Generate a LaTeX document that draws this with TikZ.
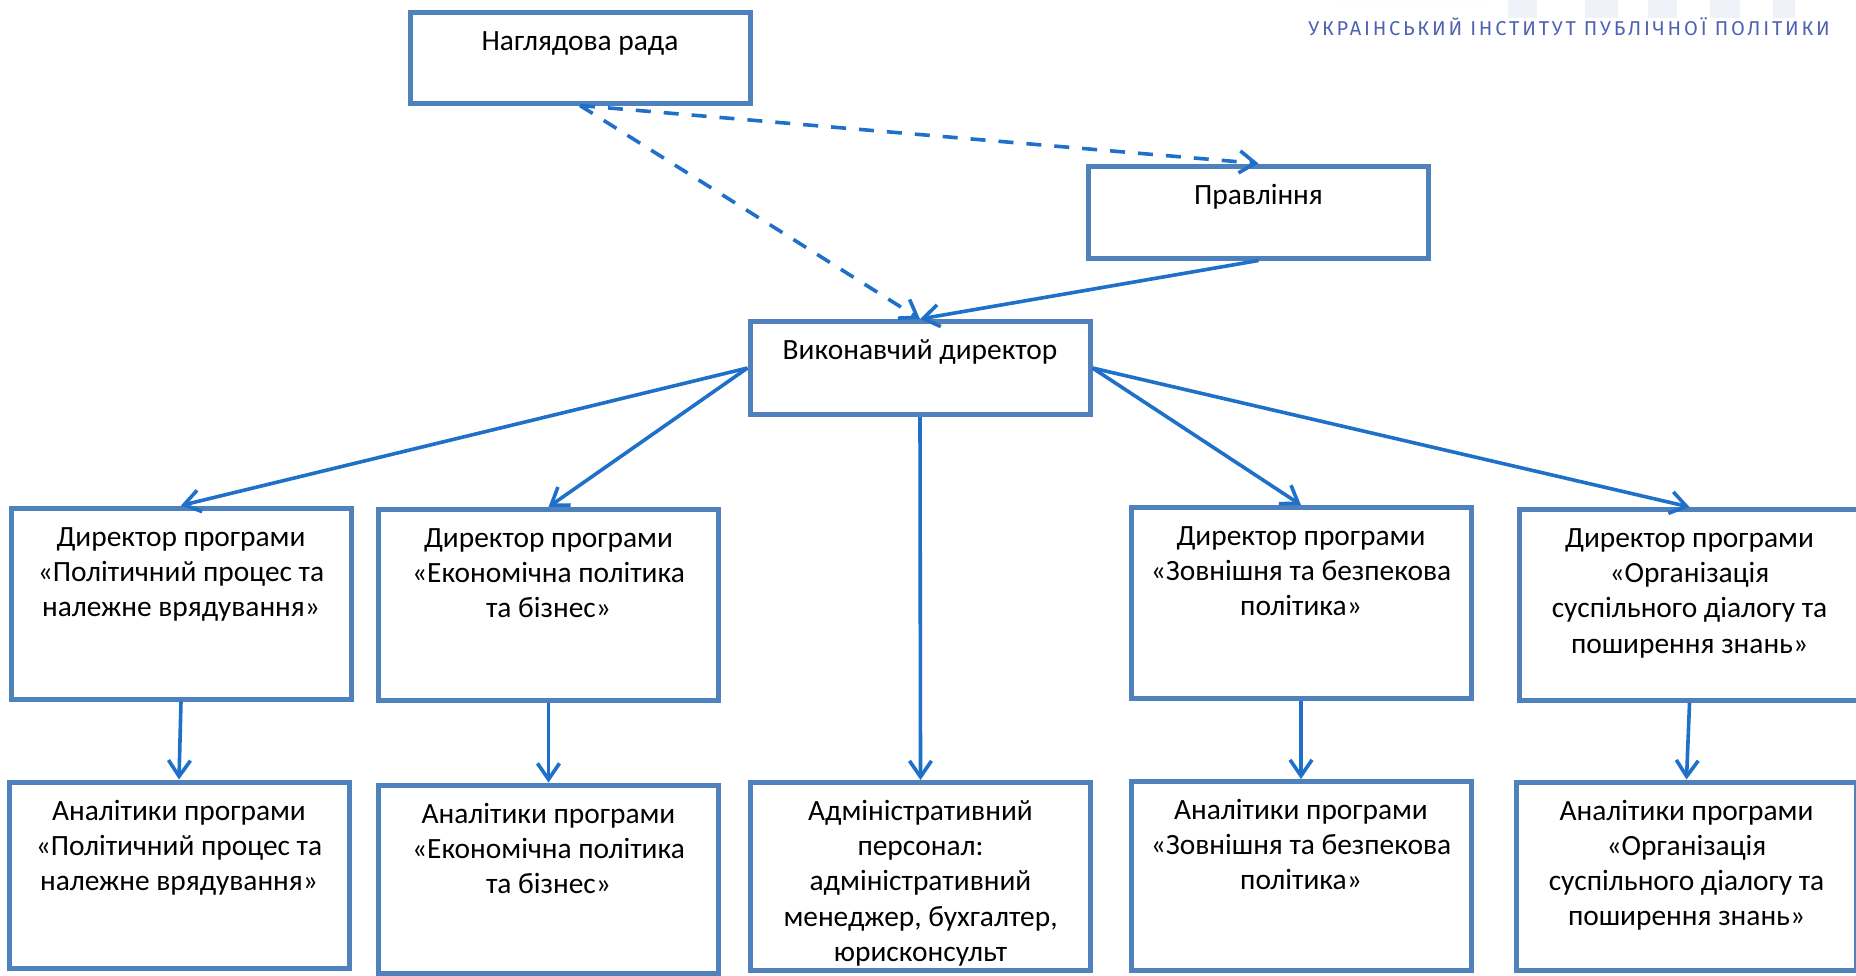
\documentclass[tikz,border=0pt]{standalone}
\usepackage{fontspec}
\setmainfont{Carlito}
\newfontfamily\logofont[LetterSpace=14]{Fira Sans}
\usetikzlibrary{arrows.meta}
\definecolor{boxblue}{RGB}{79,129,189}
\definecolor{arrblue}{RGB}{30,112,200}
\definecolor{logoblue}{RGB}{78,98,178}
\definecolor{wmark}{RGB}{240,242,250}
\newcommand{\bx}[3]{\parbox[c][#2][t]{#1}{\centering\rule{0pt}{19pt}#3}}
\begin{document}
\begin{tikzpicture}[x=0.5pt,y=-0.5pt,
  box/.style={draw=boxblue,line width=2.5pt,fill=white,inner sep=0pt,font=\fontsize{14.7pt}{17.6pt}\selectfont},
  conn/.style={draw=arrblue,line width=1.8pt,-{Straight Barb[length=8pt,width=11pt]}},
  dashconn/.style={conn,dash pattern=on 7.5pt off 6.5pt},
  wm/.style={fill=wmark,draw=none}]
\useasboundingbox (0,0) rectangle (1856,975);

% faint watermark behind the logo text
\fill[wm] (1335,0) arc[start angle=180,end angle=360,x radius=75,y radius=18] -- cycle;
\fill[wm] (1508,0) rectangle (1537,18);
\fill[wm] (1585,0) rectangle (1618,18);
\fill[wm] (1648,0) rectangle (1677,18);
\fill[wm] (1710,0) rectangle (1740,18);
\fill[wm] (1773,0) rectangle (1795,18);

\node[anchor=base west,text=logoblue,inner sep=0pt,font=\logofont\fontsize{10pt}{11pt}\selectfont] (logo) at (1308,35) {УКРАІНСЬКИЙ ІНСТИТУТ ПУБЛІЧНОЇ ПОЛІТИКИ};

\node[box] (A) at (580,57.5) {\bx{170pt}{45.5pt}{Наглядова рада}};
\node[box] (B) at (1258.5,212) {\bx{170pt}{46pt}{Правління}};
\node[box] (C) at (920,368) {\bx{170pt}{46.5pt}{Виконавчий директор}};

\node[box] (D1) at (181,603.5) {\bx{170pt}{95.5pt}{Директор програми\\«Політичний процес та\\належне врядування»}};
\node[box] (D2) at (548.5,605) {\bx{170pt}{95.5pt}{Директор програми\\«Економічна політика\\та бізнес»}};
\node[box] (D4) at (1301,603) {\bx{170pt}{95.5pt}{Директор програми\\«Зовнішня та безпекова\\політика»}};
\node[box] (D5) at (1689.5,605) {\bx{170pt}{95.5pt}{Директор програми\\«Організація\\суспільного діалогу та\\поширення знань»}};

\node[box] (E1) at (179,875) {\bx{170pt}{93pt}{Аналітики програми\\«Політичний процес та\\належне врядування»}};
\node[box] (E2) at (548.5,879) {\bx{170pt}{94pt}{Аналітики програми\\«Економічна політика\\та бізнес»}};
\node[box] (E3) at (920.5,876.5) {\bx{170pt}{94pt}{Адміністративний\\персонал:\\адміністративний\\менеджер, бухгалтер,\\юрисконсульт}};
\node[box] (E4) at (1301,876) {\bx{170pt}{94.5pt}{Аналітики програми\\«Зовнішня та безпекова\\політика»}};
\node[box] (E5) at (1686.5,876) {\bx{170pt}{94pt}{Аналітики програми\\«Організація\\суспільного діалогу та\\поширення знань»}};

\draw[dashconn] (A.south) -- (B.north);
\draw[dashconn] (A.south) -- (C.north);
\draw[conn] (B.south) -- (C.north);
\draw[conn] (C.west) -- (D1.north);
\draw[conn] (C.west) -- (D2.north);
\draw[conn] (C.south) -- (E3.north);
\draw[conn] (C.east) -- (D4.north);
\draw[conn] (C.east) -- (D5.north);
\draw[conn] (D1.south) -- (E1.north);
\draw[conn] (D2.south) -- (E2.north);
\draw[conn] (D4.south) -- (E4.north);
\draw[conn] (D5.south) -- (E5.north);
\end{tikzpicture}
\end{document}
